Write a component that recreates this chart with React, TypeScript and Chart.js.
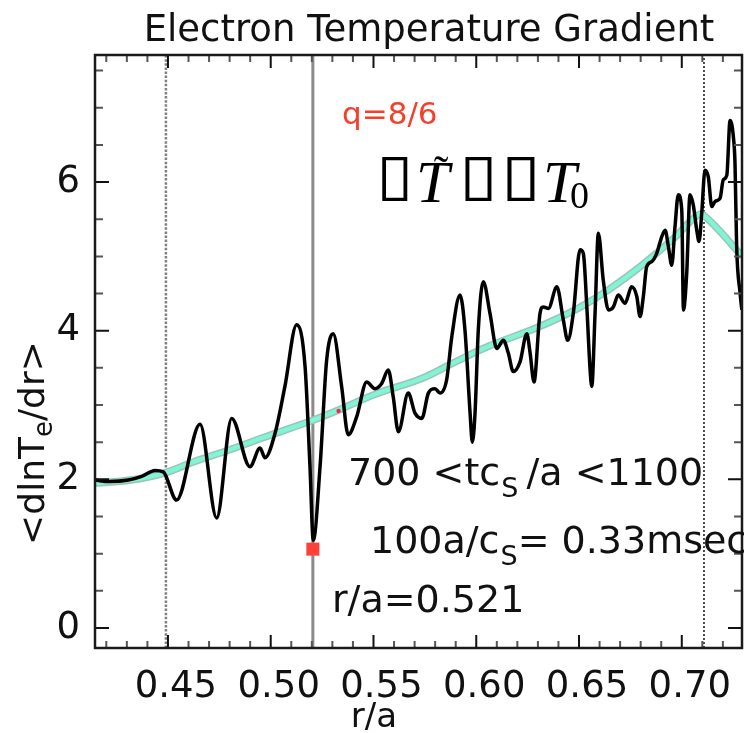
import React, { useEffect, useRef } from 'react';
import { Chart, registerables } from 'chart.js';

Chart.register(...registerables);

// ---------------- data ----------------
const blackR = [
  0.4145, 0.4218, 0.4307, 0.4372, 0.4437, 0.4477, 0.4542, 0.4656, 0.4737, 0.481,
  0.4899, 0.4948, 0.4972, 0.5021, 0.5069, 0.5126, 0.5167, 0.5191, 0.5207, 0.524,
  0.5272, 0.5304, 0.5345, 0.5377, 0.5418, 0.5467, 0.5507, 0.554, 0.5572, 0.5596,
  0.5621, 0.5669, 0.5702, 0.5735, 0.5767, 0.5799, 0.5824, 0.5856, 0.5881, 0.5921,
  0.5945, 0.597, 0.5981, 0.5994, 0.601, 0.6034, 0.6067, 0.61, 0.6132, 0.6156,
  0.618, 0.6213, 0.6246, 0.6262, 0.6281, 0.631, 0.6326, 0.6351, 0.6392, 0.6424,
  0.6445, 0.6472, 0.6505, 0.6521, 0.6538, 0.6554, 0.6562, 0.6578, 0.6594, 0.6618,
  0.6643, 0.6667, 0.6691, 0.6724, 0.6756, 0.6781, 0.6797, 0.6813, 0.6829, 0.6854,
  0.6878, 0.6902, 0.6919, 0.6935, 0.6951, 0.6967, 0.6983, 0.7, 0.7008, 0.7024,
  0.704, 0.7056, 0.7073, 0.7084, 0.7097, 0.7113, 0.7129, 0.7146, 0.7162, 0.7186,
  0.7202, 0.7219, 0.7235, 0.7251, 0.7259, 0.7267, 0.7284, 0.7292,
];
const blackGrad = [
  1.99, 1.97, 1.99, 2.04, 2.12, 2.1, 1.72, 2.74, 1.48, 2.82,
  2.17, 2.42, 2.29, 2.62, 3.25, 4.08, 3.52, 2.17, 1.18, 2.17,
  3.6, 3.96, 3.25, 2.6, 2.84, 3.31, 3.22, 3.29, 3.47, 3.11,
  2.64, 3.16, 2.89, 2.82, 3.16, 3.22, 3.16, 3.34, 3.92, 4.48,
  4.01, 2.89, 2.5, 2.89, 4.01, 4.66, 4.23, 3.76, 3.87, 3.7,
  3.45, 3.58, 3.96, 3.7, 3.31, 4.23, 4.32, 4.3, 4.59, 4.14,
  3.87, 4.23, 5.09, 5.04, 4.32, 3.47, 3.25, 4.23, 5.31, 4.68,
  4.28, 4.32, 4.48, 4.37, 4.59, 4.46, 4.19, 4.46, 4.86, 4.93,
  5.04, 5.26, 5.35, 5.13, 4.88, 5.4, 5.83, 5.62, 4.28, 4.77,
  5.83, 5.69, 5.35, 5.2, 5.58, 6.16, 6.07, 5.67, 5.74, 5.78,
  6.03, 6.09, 6.83, 6.61, 6.25, 5.13, 4.5, 4.28,
];

const fitR = [0.4145, 0.432, 0.4477, 0.463, 0.4793, 0.4972, 0.5191, 0.5328, 0.5514, 0.5737,
  0.5898, 0.606, 0.6303, 0.6481, 0.6643, 0.6806, 0.6968, 0.7065, 0.7104, 0.7295];
const fitGrad = [1.95, 1.99, 2.08, 2.24, 2.39, 2.57, 2.78, 2.93, 3.15, 3.36,
  3.58, 3.79, 4.05, 4.28, 4.55, 4.88, 5.26, 5.53, 5.56, 5.0];

const markerR = [0.5205];
const markerGrad = [1.06];
const dotR = [0.533];
const dotGrad = [2.92];

const selectedR = 0.5205;
const leftDottedR = 0.449;
const rightDottedR = 0.7108;

const xRange = [0.4145, 0.7293];
const yRange = [-0.27, 7.71];

const xTickValues = [0.45, 0.5, 0.55, 0.6, 0.65, 0.7];
const xTickLabels = ['0.45', '0.50', '0.55', '0.60', '0.65', '0.70'];
const yTickValues = [0, 2, 4, 6];
const yTickLabels = ['0', '2', '4', '6'];

const titleText = 'Electron Temperature Gradient';
const qText = 'q=8/6';
const xTitle = 'r/a';

// ---------------- helpers ----------------
const W = 744;
const H = 733;
const SANS = '"DejaVu Sans", sans-serif';
const SERIF = '"Liberation Serif", "DejaVu Serif", serif';

const pts = (xs: number[], ys: number[]) => xs.map((x, i) => ({ x, y: ys[i] }));
const vline = (x: number) => [{ x, y: yRange[0] }, { x, y: yRange[1] }];

type Part = { text: string; font: string; dy?: number; dx?: number };
function drawParts(ctx: CanvasRenderingContext2D, x: number, y: number, parts: Part[]) {
  let cx = x;
  for (const p of parts) {
    ctx.font = p.font;
    cx += p.dx || 0;
    ctx.fillText(p.text, cx, y + (p.dy || 0));
    cx += ctx.measureText(p.text).width;
  }
  return cx;
}
function partsWidth(ctx: CanvasRenderingContext2D, parts: Part[]) {
  let w = 0;
  for (const p of parts) {
    ctx.font = p.font;
    w += ctx.measureText(p.text).width + (p.dx || 0);
  }
  return w;
}

function drawBoxGlyph(ctx: CanvasRenderingContext2D, left: number, top: number, w: number, h: number) {
  ctx.save();
  ctx.font = `60px ${SANS}`;
  ctx.textAlign = 'left';
  ctx.textBaseline = 'alphabetic';
  const m = ctx.measureText('▯');
  const bw = (m.actualBoundingBoxLeft + m.actualBoundingBoxRight) || 30;
  const bh = (m.actualBoundingBoxAscent + m.actualBoundingBoxDescent) || 45;
  ctx.translate(left, top);
  ctx.scale(w / bw, h / bh);
  ctx.fillText('▯', m.actualBoundingBoxLeft, m.actualBoundingBoxAscent);
  ctx.restore();
}

const decor = {
  id: 'decor',
  afterDatasetsDraw(chart: any) {
    const { ctx, chartArea: ca, scales } = chart;
    const xs = scales.x;
    const ys = scales.y;
    ctx.save();

    // inward ticks
    ctx.lineCap = 'butt';
    for (let k = 42; k <= 72; k++) {
      const v = k / 100;
      const major = k % 5 === 0;
      const px = xs.getPixelForValue(v);
      const len = major ? 13 : 7;
      ctx.strokeStyle = major ? '#111' : '#555';
      ctx.lineWidth = 2;
      ctx.beginPath();
      ctx.moveTo(px, ca.bottom);
      ctx.lineTo(px, ca.bottom - len);
      ctx.moveTo(px, ca.top);
      ctx.lineTo(px, ca.top + len);
      ctx.stroke();
    }
    for (let k = 0; k <= 15; k++) {
      const v = k / 2;
      const major = k % 4 === 0;
      const py = ys.getPixelForValue(v);
      const len = major ? 14 : 8;
      ctx.strokeStyle = major ? '#111' : '#555';
      ctx.lineWidth = 2;
      ctx.beginPath();
      ctx.moveTo(ca.left, py);
      ctx.lineTo(ca.left + len, py);
      ctx.moveTo(ca.right, py);
      ctx.lineTo(ca.right - len, py);
      ctx.stroke();
    }

    // frame
    ctx.strokeStyle = '#1a1a1a';
    ctx.lineWidth = 2.5;
    ctx.strokeRect(ca.left, ca.top, ca.right - ca.left, ca.bottom - ca.top);

    ctx.textAlign = 'left';
    ctx.textBaseline = 'alphabetic';

    // title
    ctx.fillStyle = '#111';
    ctx.font = `37px ${SANS}`;
    ctx.textAlign = 'center';
    ctx.fillText(titleText, 429, 41);
    ctx.textAlign = 'left';

    // q=8/6
    ctx.fillStyle = '#f4402a';
    ctx.font = `31px ${SANS}`;
    ctx.fillText(qText, 342, 124);

    // broken equation
    ctx.fillStyle = '#000';
    drawBoxGlyph(ctx, 382, 157, 26, 45);
    ctx.font = `italic 60px ${SERIF}`;
    ctx.fillText('T', 416, 202);
    ctx.font = `44px ${SERIF}`;
    ctx.textAlign = 'center';
    ctx.fillText('\u02DC', 441, 186);
    ctx.textAlign = 'left';
    drawBoxGlyph(ctx, 465, 157, 27, 45);
    drawBoxGlyph(ctx, 507, 157, 28, 45);
    ctx.font = `italic 60px ${SERIF}`;
    ctx.fillText('T', 543, 202);
    ctx.font = `38px ${SERIF}`;
    ctx.fillText('0', 570, 208);

    // annotation lines
    ctx.fillStyle = '#111';
    const f = `38px ${SANS}`;
    const fs = `27px ${SANS}`;
    drawParts(ctx, 348, 485, [
      { text: '700 <tc', font: f },
      { text: 'S', font: fs, dy: 12, dx: 1 },
      { text: ' /a <1100', font: f, dx: -4 },
    ]);
    drawParts(ctx, 370, 553, [
      { text: '100a/c', font: f },
      { text: 'S', font: fs, dy: 12, dx: 1 },
      { text: '= 0.33msec', font: f },
    ]);
    drawParts(ctx, 332, 612, [{ text: 'r/a=0.521', font: f }]);

    // x title
    ctx.font = `34px ${SANS}`;
    ctx.textAlign = 'center';
    ctx.fillText(xTitle, 374, 727);
    ctx.textAlign = 'left';

    // y title (rotated)
    const yParts: Part[] = [
      { text: '<dlnT', font: `36px ${SANS}` },
      { text: 'e', font: `26px ${SANS}`, dy: 8 },
      { text: '/dr>', font: `36px ${SANS}` },
    ];
    const tw = partsWidth(ctx, yParts);
    ctx.translate(44, 443);
    ctx.rotate(-Math.PI / 2);
    drawParts(ctx, -tw / 2, 0, yParts);

    ctx.restore();
  },
};

const labelFor = (vals: number[], labels: string[]) => (v: any) => {
  const i = vals.findIndex((t) => Math.abs(t - Number(v)) < 1e-6);
  return i >= 0 ? labels[i] : '';
};

export default function App() {
  const ref = useRef<HTMLCanvasElement>(null);

  useEffect(() => {
    if (!ref.current) return;
    const chart = new Chart(ref.current, {
      type: 'scatter',
      data: {
        datasets: [
          {
            data: pts(markerR, markerGrad),
            showLine: false,
            pointStyle: 'rect',
            pointRadius: 9.2,
            backgroundColor: '#ff4038',
            borderColor: '#ff3030',
            borderWidth: 0,
            order: 0,
          },
          {
            data: pts(dotR, dotGrad),
            showLine: false,
            pointRadius: 2.2,
            backgroundColor: '#ff2050',
            borderWidth: 0,
            order: 0,
          },
          {
            data: pts(blackR, blackGrad),
            showLine: true,
            borderColor: '#000',
            borderWidth: 3.5,
            pointRadius: 0,
            cubicInterpolationMode: 'monotone',
            order: 1,
          },
          {
            data: pts(fitR, fitGrad),
            showLine: true,
            borderColor: '#7ff5d6',
            borderWidth: 4.5,
            pointRadius: 0,
            tension: 0.4,
            order: 2,
          },
          {
            data: pts(fitR, fitGrad),
            showLine: true,
            borderColor: '#9cc4b8',
            borderWidth: 7.5,
            pointRadius: 0,
            tension: 0.4,
            order: 3,
          },
          {
            data: vline(selectedR),
            showLine: true,
            borderColor: '#8a8a8a',
            borderWidth: 3,
            pointRadius: 0,
            order: 4,
          },
          {
            data: vline(leftDottedR),
            showLine: true,
            borderColor: '#808080',
            borderWidth: 2.5,
            borderDash: [2.5, 1.6],
            pointRadius: 0,
            order: 4,
          },
          {
            data: vline(rightDottedR),
            showLine: true,
            borderColor: '#222',
            borderWidth: 1.6,
            borderDash: [2, 2],
            pointRadius: 0,
            order: 4,
          },
        ],
      },
      options: {
        animation: false,
        responsive: false,
        devicePixelRatio: 1,
        events: [],
        layout: { padding: { top: 55, right: 2, left: 0, bottom: 0 }, autoPadding: false },
        plugins: {
          legend: { display: false },
          tooltip: { enabled: false },
          title: { display: false },
        },
        scales: {
          x: {
            type: 'linear',
            min: xRange[0],
            max: xRange[1],
            grid: { display: false },
            border: { display: false },
            afterBuildTicks: (s: any) => {
              s.ticks = xTickValues.map((v) => ({ value: v }));
            },
            afterFit: (s: any) => {
              s.height = 85;
            },
            ticks: {
              autoSkip: false,
              maxRotation: 0,
              minRotation: 0,
              padding: 9,
              labelOffset: 8,
              color: '#111',
              font: { family: 'DejaVu Sans', size: 37 },
              callback: labelFor(xTickValues, xTickLabels),
            },
          },
          y: {
            type: 'linear',
            min: yRange[0],
            max: yRange[1],
            grid: { display: false },
            border: { display: false },
            afterBuildTicks: (s: any) => {
              s.ticks = yTickValues.map((v) => ({ value: v }));
            },
            afterFit: (s: any) => {
              s.width = 95;
            },
            ticks: {
              autoSkip: false,
              padding: 7,
              color: '#111',
              font: { family: 'DejaVu Sans', size: 37 },
              callback: labelFor(yTickValues, yTickLabels),
            },
          },
        },
      },
      plugins: [decor],
    } as any);
    return () => chart.destroy();
  }, []);

  return (
    <div style={{ position: 'fixed', left: 0, top: 0, width: W, height: H, background: '#fff' }}>
      <canvas ref={ref} width={W} height={H} style={{ display: 'block', width: W, height: H }} />
    </div>
  );
}
